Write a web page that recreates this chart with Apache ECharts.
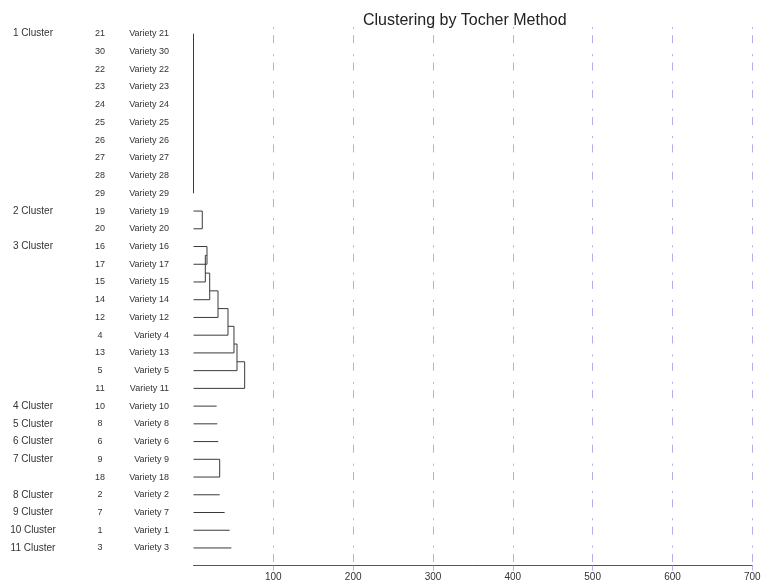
<!DOCTYPE html>
<html>
<head>
<meta charset="utf-8">
<script src="https://cdn.jsdelivr.net/npm/echarts@6/dist/echarts.min.js"></script>
<style>
  html, body { margin: 0; padding: 0; background: #fff; }
  #chart { width: 762px; height: 584px; }
</style>
</head>
<body>
<div id="chart"></div>
<script>
// clusters (Tocher), members in plotted order, top to bottom
var clusterNames = ['1 Cluster', '2 Cluster', '3 Cluster', '4 Cluster', '5 Cluster', '6 Cluster',
  '7 Cluster', '8 Cluster', '9 Cluster', '10 Cluster', '11 Cluster'];
var clusterMembers = [
  [21, 30, 22, 23, 24, 25, 26, 27, 28, 29],
  [19, 20],
  [16, 17, 15, 14, 12, 4, 13, 5, 11],
  [10],
  [8],
  [6],
  [9, 18],
  [2],
  [7],
  [1],
  [3]
];
// merge distances inside each cluster (chained: each merge adds the next member)
var mergeHeights = [
  [0, 0, 0, 0, 0, 0, 0, 0, 0],
  [11],
  [16.9, 14.8, 20.3, 30.7, 43.2, 50.7, 54.5, 64.1],
  [],
  [],
  [],
  [32.8],
  [],
  [],
  [],
  []
];
// single-member clusters are drawn as a stub of this length
var singleLength = { 10: 29, 8: 29.8, 6: 31, 2: 32.8, 7: 39, 1: 45.3, 3: 47.4 };
var xTicks = [100, 200, 300, 400, 500, 600, 700];

// row labels
var rowIds = [], rowCluster = {};
clusterMembers.forEach(function (m, ci) {
  rowCluster[rowIds.length + 1] = clusterNames[ci];
  m.forEach(function (id) { rowIds.push(id); });
});
var nRows = rowIds.length;

// dendrogram paths
var paths = [];
var row = 1;
clusterMembers.forEach(function (m, ci) {
  var hs = mergeHeights[ci];
  if (m.length === 1) {
    paths.push({ coords: [[0, row], [singleLength[m[0]], row]] });
  } else {
    var prevH = 0, prevY = row;
    for (var k = 1; k < m.length; k++) {
      var leafY = row + k, h = hs[k - 1];
      paths.push({ coords: [[prevH, prevY], [h, prevY], [h, leafY], [0, leafY]] });
      prevY = (k === 1) ? (prevY + leafY) / 2 : prevY + (leafY - prevY) * 2 / 3;
      prevH = h;
    }
  }
  row += m.length;
});

function rowAxis(margin, align, size, fmt) {
  return {
    type: 'value', inverse: true, min: 0, max: nRows + 1, interval: 1,
    position: 'left',
    axisLine: { show: false }, axisTick: { show: false }, splitLine: { show: false },
    axisLabel: {
      margin: margin, align: align, fontSize: size, color: '#333',
      fontFamily: 'Liberation Sans',
      formatter: function (v) {
        if (v < 1 || v > nRows) return '';
        return fmt(v);
      }
    }
  };
}

var chart = echarts.init(document.getElementById('chart'));
chart.setOption({
  animation: false,
  title: {
    text: 'Clustering by Tocher Method',
    left: 358, top: 8,
    textStyle: { fontSize: 16, fontWeight: 'normal', color: '#222', fontFamily: 'Liberation Sans' }
  },
  grid: { left: 193.5, right: 9.7, top: 16, bottom: 18.3, outerBoundsMode: 'none' },
  xAxis: {
    type: 'value', min: 0, max: 700, interval: 100, position: 'bottom',
    axisLine: { onZero: false, lineStyle: { color: '#555', width: 1 } },
    axisTick: { length: 5, customValues: xTicks, lineStyle: { color: '#b4b4ea' } },
    axisLabel: { customValues: xTicks, fontSize: 10, color: '#333', margin: 7, fontFamily: 'Liberation Sans' },
    splitLine: {
      show: true,
      lineStyle: { color: '#b0b0ec', width: 1, type: [2, 6.3, 8, 11], dashOffset: 16.4 }
    }
  },
  yAxis: [
    rowAxis(24.5, 'right', 9, function (v) { return 'Variety ' + rowIds[v - 1]; }),
    rowAxis(93.5, 'center', 9, function (v) { return String(rowIds[v - 1]); }),
    rowAxis(160.5, 'center', 10, function (v) { return rowCluster[v] || ''; })
  ],
  series: [{
    type: 'lines',
    coordinateSystem: 'cartesian2d',
    polyline: true,
    silent: true,
    lineStyle: { color: '#3a3a3a', width: 1, opacity: 1 },
    data: paths
  }]
});
</script>
</body>
</html>
